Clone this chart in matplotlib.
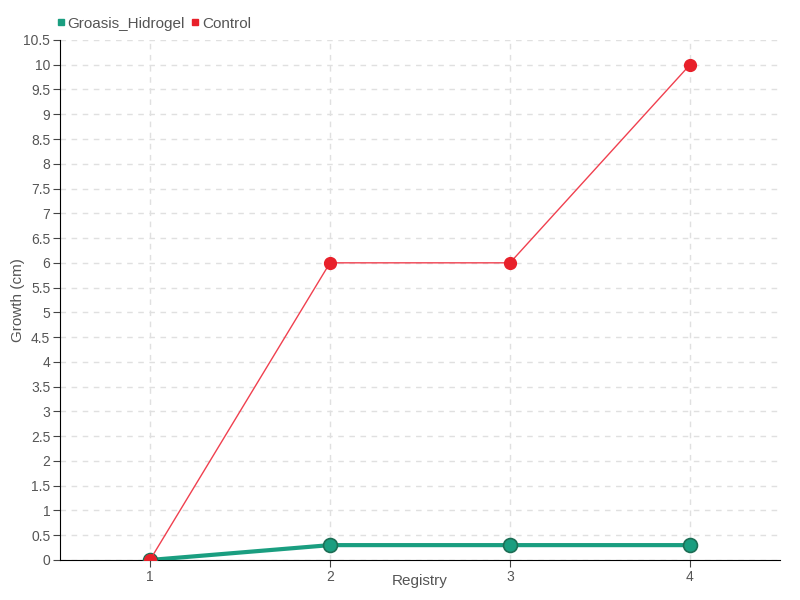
import matplotlib.pyplot as plt
import numpy as np
from matplotlib.lines import Line2D

registry = [1, 2, 3, 4]
groasis = [0, 0.3, 0.3, 0.3]
control = [0, 6, 6, 10]
yticks = np.arange(0, 10.51, 0.5)
ylabels = ["0", "0.5", "1", "1.5", "2", "2.5", "3", "3.5", "4", "4.5", "5", "5.5",
           "6", "6.5", "7", "7.5", "8", "8.5", "9", "9.5", "10", "10.5"]

plt.rcParams['font.family'] = ['Liberation Sans', 'DejaVu Sans']
txt = '#555555'

fig = plt.figure(figsize=(8, 6), dpi=100)
ax = fig.add_axes([0.075, 0.0667, 0.9, 0.8667])

ax.plot(registry, groasis, color='#1a9e80', lw=3, marker='o', ms=10,
        mfc='#1a9e80', mec='#1d6e55', mew=1.2, label='Groasis_Hidrogel', zorder=3)
ax.plot(registry, control, color='#f0404f', lw=1, marker='o', ms=8.5,
        mfc='#e8202a', mec='#e8202a', label='Control', zorder=4)

ax.set_xlim(0.5, 4.5)
ax.set_ylim(0, 10.5)
ax.set_xticks(registry)
ax.set_xticklabels([str(r) for r in registry])
ax.set_yticks(yticks)
ax.set_yticklabels(ylabels)
ax.grid(True, color='#e0e0e0', ls=(0, (4, 4)), lw=1)
ax.set_axisbelow(True)
for s in ['top', 'right']:
    ax.spines[s].set_visible(False)
ax.spines['left'].set_color('black')
ax.spines['bottom'].set_color('black')
ax.tick_params(axis='both', colors='#444444', labelcolor=txt, labelsize=10,
               length=5, pad=2)
ax.set_xlabel('Registry', color=txt, fontsize=11)
ax.set_ylabel('Growth (cm)', color=txt, fontsize=11)
ax.xaxis.set_label_coords(0.5, -0.04, transform=ax.transAxes)
ax.yaxis.set_label_coords(-0.058, 0.5, transform=ax.transAxes)
ax.xaxis.label.set_va('center')
ax.yaxis.label.set_va('center')

handles = [Line2D([], [], ls='none', marker='s', ms=4.5, color='#1a9e80'),
           Line2D([], [], ls='none', marker='s', ms=4.5, color='#e8202a')]
fig.legend(handles, ['Groasis_Hidrogel', 'Control'], loc='upper left',
           bbox_to_anchor=(0.054, 0.995), ncol=2, frameon=False, handlelength=0.5,
           handletextpad=0.2, columnspacing=0.4, fontsize=11, labelcolor=txt)

fig.savefig('out.png', dpi=100)
